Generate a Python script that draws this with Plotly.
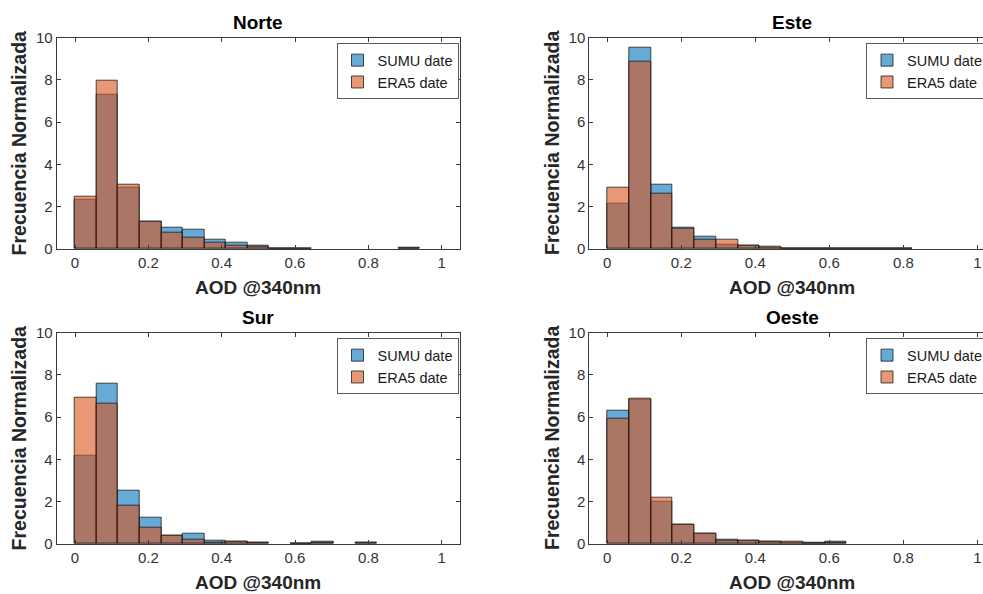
import numpy as np
import plotly.graph_objects as go

# Histogram bins (AOD @340nm), common to all panels
bin_width = 0.0588
n_bins = 16
bin_centers = [(i + 0.5) * bin_width for i in range(n_bins)]

regions = ["Norte", "Este", "Sur", "Oeste"]

# Normalised frequency per bin
sumu_norte = [2.31, 7.31, 2.91, 1.27, 1.01, 0.88, 0.44, 0.28, 0.14, 0.02, 0.02, 0, 0, 0, 0, 0.03]
era5_norte = [2.46, 7.98, 3.03, 1.28, 0.76, 0.51, 0.30, 0.14, 0.11, 0.02, 0.02, 0, 0, 0, 0, 0.02]

sumu_este = [2.13, 9.53, 3.05, 1.00, 0.55, 0.21, 0.14, 0.07, 0.02, 0.02, 0.01, 0.01, 0.01, 0.01, 0, 0]
era5_este = [2.91, 8.88, 2.61, 0.95, 0.44, 0.44, 0.15, 0.09, 0.02, 0.01, 0.01, 0.01, 0.01, 0.01, 0, 0]

sumu_sur = [4.19, 7.60, 2.51, 1.25, 0.38, 0.49, 0.14, 0.09, 0.03, 0, 0.02, 0.08, 0, 0.03, 0, 0]
era5_sur = [6.94, 6.64, 1.82, 0.74, 0.40, 0.17, 0.05, 0.11, 0.05, 0, 0.02, 0.03, 0, 0.03, 0, 0]

sumu_oeste = [6.32, 6.84, 1.97, 0.88, 0.46, 0.17, 0.14, 0.11, 0.05, 0.03, 0.09, 0, 0, 0, 0, 0]
era5_oeste = [5.94, 6.86, 2.18, 0.90, 0.46, 0.15, 0.14, 0.08, 0.08, 0.02, 0.05, 0, 0, 0, 0, 0]

sumu_values = [sumu_norte, sumu_este, sumu_sur, sumu_oeste]
era5_values = [era5_norte, era5_este, era5_sur, era5_oeste]

series_names = ["SUMU date", "ERA5 date"]
x_ticks = [0, 0.2, 0.4, 0.6, 0.8, 1]
y_ticks = [0, 2, 4, 6, 8, 10]

W, H = 983, 594
BLUE = "rgba(0,114,189,0.6)"
ORANGE = "rgba(217,83,25,0.6)"
EDGE = "rgba(20,20,20,0.75)"
AXIS = "#3a3a3a"
FONT = "Liberation Sans, Arial, sans-serif"

# Panel geometry in pixels: (left, right, top, bottom), plus x range
panels = [
    dict(l=56.7, r=460.0, t=37.7, b=248.7, xr=[-0.05, 1.05], right=False),
    dict(l=589.3, r=983.0, t=37.7, b=248.7, xr=[-0.0486, 1.0154], right=True),
    dict(l=56.7, r=460.0, t=332.7, b=543.7, xr=[-0.05, 1.05], right=False),
    dict(l=589.3, r=983.0, t=332.7, b=543.7, xr=[-0.0486, 1.0154], right=True),
]

fig = go.Figure()
layout = dict(
    width=W, height=H,
    margin=dict(l=0, r=0, t=0, b=0, autoexpand=False),
    paper_bgcolor="white", plot_bgcolor="white",
    barmode="overlay", bargap=0,
    font=dict(family=FONT, color="#262626"),
    annotations=[],
)

for k, (name, p) in enumerate(zip(regions, panels)):
    ax = "" if k == 0 else str(k + 1)
    leg = "legend" if k == 0 else f"legend{k + 1}"
    for vals, sname, col in ((sumu_values[k], series_names[0], BLUE),
                             (era5_values[k], series_names[1], ORANGE)):
        # empty bins are left undrawn (no outline along the baseline)
        yv = [v if v > 0 else None for v in vals]
        fig.add_trace(go.Bar(
            x=bin_centers, y=yv, width=bin_width, name=sname,
            marker=dict(color=col, line=dict(color=EDGE, width=1)),
            xaxis="x" + ax, yaxis="y" + ax, legend=leg,
            hovertemplate="%{x:.3f}: %{y:.2f}<extra>" + sname + "</extra>",
        ))

    xd = [p["l"] / W, p["r"] / W]
    yd = [1 - p["b"] / H, 1 - p["t"] / H]
    common = dict(showgrid=False, zeroline=False, showline=True, linecolor=AXIS,
                  linewidth=1, ticks="inside", ticklen=4, tickcolor=AXIS,
                  tickfont=dict(size=15, color="#333333", family=FONT))
    layout["xaxis" + ax] = dict(domain=xd, range=p["xr"], tickvals=x_ticks,
                                ticktext=[f"{v:g}" for v in x_ticks],
                                mirror="ticks", anchor="y" + ax, **common)
    layout["yaxis" + ax] = dict(domain=yd, range=[0, 10], tickvals=y_ticks,
                                mirror=False if p["right"] else "ticks",
                                anchor="x" + ax, **common)

    # legend box inside the upper-right corner of each panel
    ytop = 1 - (p["t"] + 5.5) / H
    if p["right"]:
        lx, xa = 866.0 / W, "left"
    else:
        lx, xa = 458.5 / W, "right"
    layout[leg] = dict(x=lx, xanchor=xa, y=ytop, yanchor="top",
                       bgcolor="white", bordercolor="#5a5a5a", borderwidth=1,
                       font=dict(size=14.5, color="#1a1a1a", family=FONT),
                       itemwidth=30, tracegroupgap=0)

    # panel title, x label and y label
    xref = "x" + ax
    layout["annotations"] += [
        dict(text=f"<b>{name}</b>", xref=xref, x=0.5, yref="paper",
             y=1 - (p["t"] - 15.5) / H, showarrow=False, xanchor="center",
             yanchor="middle", font=dict(size=19, color="black", family=FONT)),
        dict(text="<b>AOD @340nm</b>", xref=xref, x=0.5, yref="paper",
             y=1 - (p["b"] + 38.5) / H, showarrow=False, xanchor="center",
             yanchor="middle", font=dict(size=19, color="#262626", family=FONT)),
        dict(text="<b>Frecuencia Normalizada</b>", xref="paper",
             x=(p["l"] - 37.5) / W, yref="paper",
             y=1 - (p["t"] + p["b"]) / 2 / H, textangle=-90, showarrow=False,
             xanchor="center", yanchor="middle",
             font=dict(size=19.5, color="#262626", family=FONT)),
    ]

fig.update_layout(**layout)
fig.write_html("out.html")
